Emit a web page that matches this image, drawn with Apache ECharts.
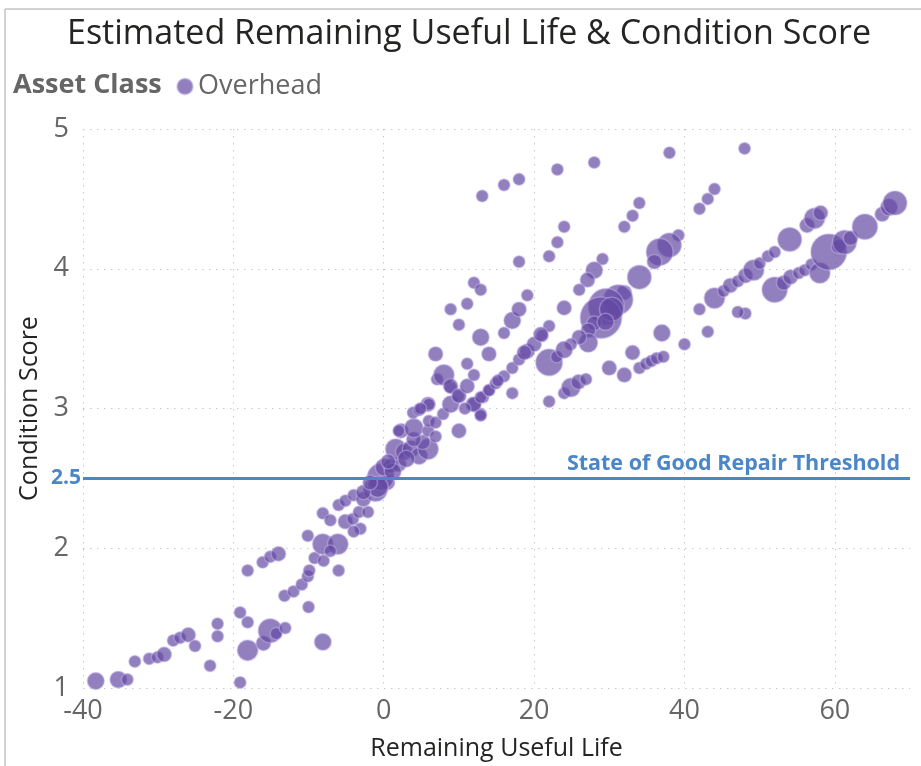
<!DOCTYPE html>
<html>
<head>
<meta charset="utf-8">
<script src="https://cdn.jsdelivr.net/npm/echarts@6/dist/echarts.min.js"></script>
<style>
  html, body { margin: 0; padding: 0; background: #fff; }
  #chart { width: 921px; height: 766px; }
</style>
</head>
<body>
<div id="chart"></div>
<script>
// remaining useful life (years), condition score, asset count (bubble size)
var rul = [
  -38.3, -35.3, -34.1, -33.1, -31.2, -30.1, -29.2, -28.0, -27.1, -26.0,
  -25.1, -23.1, -22.1, -22.1, -19.1, -19.1, -18.1, -18.1, -16.0, -15.1,
  -14.3, -13.1, -8.1, -18.1, -16.1, -15.1, -14.0, -13.2, -12.0, -10.9,
  -10.1, -9.9, -10.0, -10.1, -9.2, -8.0, -8.1, -6.1, -7.1, -6.0,
  -8.1, -7.1, -6.0, -5.1, -4.0, -5.1, -4.1, -3.3, -3.1, -4.0,
  -2.1, -2.7, -1.1, 0.5, -0.4, -0.8, -2.7, 0.0, 0.9, 2.0,
  1.6, 2.7, 3.6, 4.7, 5.9, 5.2, 4.0, 2.3, 4.0, 5.9,
  6.9, 6.0, 6.9, 3.9, 4.7, 5.9, 7.9, 8.9, 9.9, 10.0,
  8.9, 11.9, 12.9, 13.2, 14.0, 7.1, 8.0, 6.9, 8.9, 10.0,
  11.1, 12.0, 11.1, 10.0, 8.9, 11.1, 12.0, 12.9, 12.9, 14.0,
  12.0, 12.9, 12.9, 14.0, 14.9, 16.0, 17.1, 17.1, 18.0, 19.1,
  20.0, 21.1, 22.0, 22.0, 16.0, 17.1, 18.0, 19.1, 18.0, 22.0,
  22.0, 23.0, 6.0, 4.9, 2.0, 13.1, 16.0, 18.0, 23.1, 28.0,
  38.0, 48.0, 44.0, 43.1, 42.0, 34.0, 33.1, 32.0, 24.0, 23.1,
  29.1, 28.0, 27.1, 26.0, 24.0, 34.0, 32.0, 31.2, 29.6, 28.9,
  30.3, 28.0, 27.2, 27.2, 26.0, 24.9, 24.0, 20.9, 18.7, 24.0,
  24.9, 25.9, 26.9, 30.0, 32.0, 33.1, 34.0, 34.9, 35.6, 36.3,
  37.2, 37.0, 40.0, 43.1, 42.0, 44.0, 45.2, 46.1, 47.1, 48.1,
  49.2, 50.0, 51.1, 52.0, 54.0, 56.3, 57.3, 58.1, 48.1, 47.1,
  52.0, 53.2, 54.1, 55.2, 56.0, 56.9, 58.0, 59.2, 60.5, 61.3,
  62.1, 64.0, 66.3, 67.2, 68.0, 39.2, 38.0, 36.7, 36.0, 1.2,
  -1.8, 3.0, 0.6, 10.8, 15.2, 29.5
];
var score = [
  1.05, 1.06, 1.06, 1.19, 1.21, 1.22, 1.24, 1.34, 1.36, 1.38,
  1.30, 1.16, 1.37, 1.46, 1.04, 1.54, 1.47, 1.27, 1.32, 1.41,
  1.39, 1.43, 1.33, 1.84, 1.90, 1.94, 1.96, 1.66, 1.69, 1.74,
  1.80, 1.84, 1.58, 2.09, 1.93, 1.91, 2.03, 2.03, 1.98, 1.84,
  2.25, 2.20, 2.31, 2.34, 2.38, 2.19, 2.21, 2.26, 2.14, 2.12,
  2.26, 2.35, 2.42, 2.47, 2.51, 2.44, 2.40, 2.58, 2.59, 2.60,
  2.71, 2.69, 2.71, 2.66, 2.71, 2.76, 2.78, 2.84, 2.86, 2.84,
  2.80, 2.91, 2.90, 2.97, 2.99, 3.03, 2.96, 3.03, 3.09, 2.84,
  3.15, 3.03, 2.96, 3.08, 3.13, 3.21, 3.24, 3.39, 3.16, 3.09,
  3.16, 3.24, 3.32, 3.60, 3.71, 3.75, 3.90, 3.85, 3.51, 3.39,
  3.03, 2.95, 3.08, 3.13, 3.18, 3.23, 3.11, 3.29, 3.35, 3.41,
  3.46, 3.52, 3.59, 3.05, 3.54, 3.63, 3.71, 3.81, 4.05, 4.09,
  3.33, 3.37, 3.03, 3.00, 2.84, 4.52, 4.60, 4.64, 4.71, 4.76,
  4.83, 4.86, 4.57, 4.50, 4.43, 4.47, 4.38, 4.30, 4.30, 4.19,
  4.07, 3.99, 3.92, 3.85, 3.72, 3.94, 3.83, 3.78, 3.73, 3.65,
  3.71, 3.61, 3.56, 3.47, 3.51, 3.46, 3.42, 3.53, 3.40, 3.11,
  3.15, 3.19, 3.21, 3.29, 3.24, 3.40, 3.29, 3.32, 3.34, 3.36,
  3.37, 3.54, 3.46, 3.55, 3.71, 3.79, 3.84, 3.88, 3.91, 3.95,
  3.99, 4.04, 4.09, 4.12, 4.21, 4.31, 4.36, 4.40, 3.68, 3.69,
  3.85, 3.90, 3.94, 3.97, 3.99, 4.03, 3.97, 4.12, 4.16, 4.19,
  4.22, 4.30, 4.39, 4.44, 4.47, 4.24, 4.17, 4.12, 4.05, 2.55,
  2.47, 2.64, 2.62, 3.00, 3.20, 3.62
];
var assetCount = [
  2, 2, 1, 1, 1, 1, 1.5, 1, 1, 1.5,
  1, 1, 1, 1, 1, 1, 1, 3, 1.5, 4,
  1, 1, 2, 1, 1, 1, 1.5, 1, 1, 1,
  1, 1, 1, 1, 1, 1, 3, 3, 1, 1,
  1, 1, 1, 1, 1, 1.5, 1, 1, 1, 1,
  1, 1.5, 4, 1.5, 5, 3, 1.5, 2, 1.5, 1.5,
  3, 2, 2, 2, 3, 1.5, 1.5, 1.5, 2.5, 1,
  1, 1, 1, 1, 1, 1.5, 1, 2, 1, 1.5,
  1, 1.5, 1, 1, 1, 1, 3, 1.5, 1.5, 1.5,
  1.5, 1, 1, 1, 1, 1, 1, 1, 2, 1.5,
  1.5, 1, 1, 1, 1, 1, 1, 1, 1, 1.5,
  1.5, 1, 1, 1, 1, 2, 1.5, 1, 1, 1,
  5, 1, 1, 1, 1, 1, 1, 1, 1, 1,
  1, 1, 1, 1, 1, 1, 1, 1, 1, 1,
  1, 2, 1.5, 1, 1.5, 4, 1.5, 6, 9, 12,
  4, 1.5, 1.5, 2.5, 1.5, 1, 2, 1.5, 1.5, 1,
  2.5, 1.5, 1, 1.5, 1.5, 1.5, 1, 1, 1, 1,
  1, 2, 1, 1, 1, 3, 1, 1.5, 1, 1.5,
  3, 1, 1, 1, 4, 1.5, 3, 1.5, 1, 1,
  4.5, 1.5, 1.5, 1, 1, 1, 3, 9, 1.5, 4,
  1.5, 4.5, 1.5, 2, 4, 1, 4, 5, 1.5, 2,
  1.5, 2, 1.5, 1, 1, 2
];
var xTicks = [-40, 70, 20];
var yTicks = [1, 5, 1];
var threshold = 2.5;
var thresholdLabel = 'State of Good Repair Threshold';
var seriesName = 'Overhead';

var points = rul.map(function (x, i) {
  return [x, score[i], assetCount[i]];
});

var chart = echarts.init(document.getElementById('chart'));
var font = '"Open Sans", "Noto Sans", sans-serif';
chart.setOption({
  animation: false,
  textStyle: { fontFamily: font },
  title: {
    text: 'Estimated Remaining Useful Life & Condition Score',
    left: 62,
    top: 12,
    textStyle: { fontSize: 34, fontWeight: 'normal', color: '#252423', fontFamily: font }
  },
  legend: {
    left: 171,
    top: 68,
    icon: 'circle',
    itemWidth: 16,
    itemHeight: 16,
    itemGap: 6,
    textStyle: { fontSize: 27, color: '#666666', fontFamily: font },
    data: [seriesName]
  },
  graphic: [
    {
      type: 'text',
      left: 13,
      top: 72,
      style: { text: 'Asset Class', fontSize: 27, fontWeight: 'bold', fill: '#666666', fontFamily: font }
    },
    {
      type: 'polyline',
      shape: { points: [[5, 766], [5, 9], [921, 9]] },
      style: { stroke: '#a6a6a6', lineWidth: 1, fill: null }
    }
  ],
  grid: { left: 83, right: 11, top: 129, bottom: 77 },
  xAxis: {
    type: 'value',
    min: xTicks[0],
    max: xTicks[1],
    interval: xTicks[2],
    name: 'Remaining Useful Life',
    nameLocation: 'middle',
    nameGap: 48,
    nameTextStyle: { fontSize: 25, color: '#252423' },
    axisLine: { show: false },
    axisTick: { show: false },
    axisLabel: { fontSize: 27, color: '#666666', margin: 10, showMaxLabel: false },
    splitLine: { show: true, showMaxLine: false, lineStyle: { color: '#c8c8c8', type: [1.5, 5.5], width: 1 } }
  },
  yAxis: {
    type: 'value',
    min: yTicks[0],
    max: yTicks[1],
    interval: yTicks[2],
    name: 'Condition Score',
    nameLocation: 'middle',
    nameGap: 41,
    nameTextStyle: { fontSize: 25, color: '#252423' },
    axisLine: { show: false },
    axisTick: { show: false },
    axisLabel: { fontSize: 27, color: '#666666', margin: 14 },
    splitLine: { show: true, lineStyle: { color: '#c8c8c8', type: [1.5, 5.5], width: 1 } }
  },
  series: [
    {
      name: seriesName,
      type: 'scatter',
      data: points,
      symbolSize: function (d) { return 12 * Math.sqrt(d[2]); },
      itemStyle: {
        color: 'rgba(100, 72, 162, 0.88)',
        borderColor: 'rgba(196, 182, 232, 0.6)',
        borderWidth: 1.5
      },
      markLine: {
        silent: true,
        symbol: 'none',
        lineStyle: { color: '#4a86c8', width: 3, type: 'solid' },
        data: [
          {
            yAxis: threshold,
            label: {
              position: 'start',
              formatter: String(threshold),
              color: '#4a86c8',
              fontSize: 21,
              fontWeight: 'bold',
              distance: 2
            }
          },
          {
            yAxis: threshold,
            label: {
              position: 'insideEndTop',
              formatter: thresholdLabel,
              color: '#4a86c8',
              fontSize: 21.5,
              fontWeight: 'bold',
              distance: [10, 4]
            }
          }
        ]
      }
    }
  ]
});
</script>
</body>
</html>
